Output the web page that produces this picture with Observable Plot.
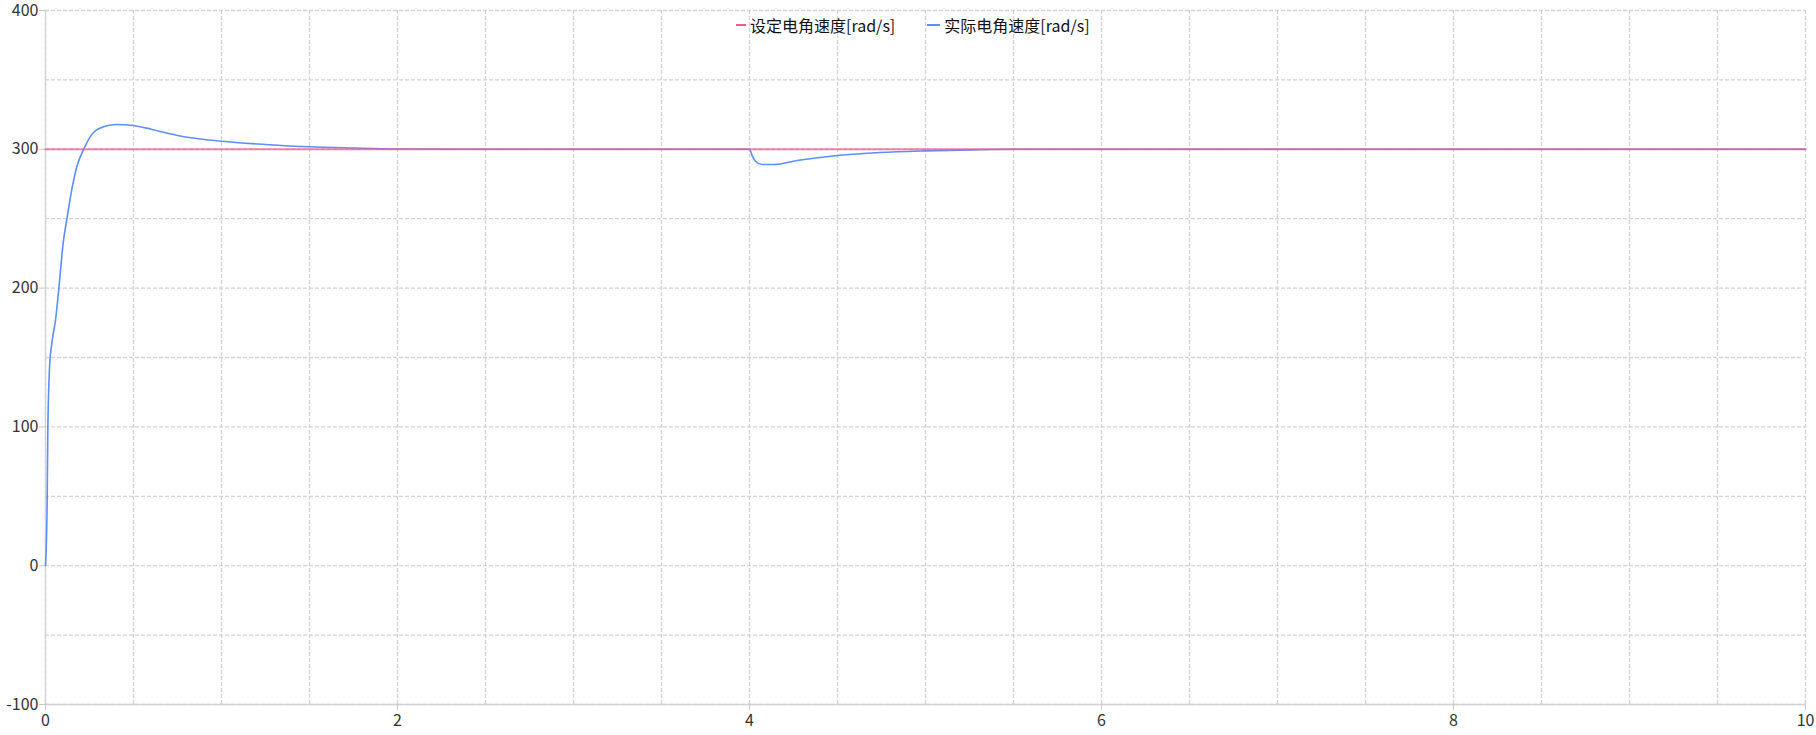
<!DOCTYPE html>
<html>
<head>
<meta charset="utf-8">
<script src="https://cdn.jsdelivr.net/npm/d3@7"></script>
<script src="https://cdn.jsdelivr.net/npm/@observablehq/plot@0.6"></script>
<style>
  html, body { margin: 0; padding: 0; background: #fff; }
  #wrap { position: relative; width: 1816px; height: 735px; font-family: "Noto Sans CJK SC", "Noto Sans", sans-serif; }
  #legend { position: absolute; top: 13px; left: 736px; display: flex; align-items: center; font-size: 16px; color: #111; white-space: nowrap; }
  .item { display: flex; align-items: center; }
  .sw { display: inline-block; height: 2.5px; margin-right: 4px; }
</style>
</head>
<body>
<div id="wrap"><div id="legend"></div></div>
<script>
// Series names
const seriesNames = ["设定电角速度[rad/s]", "实际电角速度[rad/s]"];
const seriesColors = ["#ee5b8e", "#5b8ff9"];

// Setpoint electrical angular speed (rad/s)
const setT = [0, 10];
const setV = [300, 300];

// Actual electrical angular speed (rad/s)
const actT = [0, 0.0095, 0.013, 0.023, 0.038, 0.057, 0.076, 0.10, 0.123, 0.152, 0.18, 0.218, 0.274, 0.35, 0.407, 0.5, 0.6, 0.75, 1.0, 1.25, 1.5, 1.75, 2.0, 2.3,
              4.0, 4.015, 4.034, 4.072, 4.14, 4.27, 4.5, 4.74, 5.0, 5.26, 5.5, 10];
const actV = [0, 47, 95, 143, 162, 177, 200, 232, 251, 272.7, 288.3, 300.3, 312.3, 317, 317.9, 317.1, 314.5, 310, 305.8, 303.5, 301.8, 300.9, 300.2, 300,
              300, 295.5, 291.4, 289, 289, 291.9, 295.5, 297.7, 298.9, 299.6, 300, 300];

// Axes
const xTicks = [0, 2, 4, 6, 8, 10];
const yTicks = [-100, 0, 100, 200, 300, 400];
const xGrid = d3.range(0, 10.001, 0.5);
const yGrid = d3.range(-100, 400.001, 50);

const setData = setT.map((t, i) => ({t, v: setV[i]}));
const actData = actT.map((t, i) => ({t, v: actV[i]}));

const chart = Plot.plot({
  width: 1816,
  height: 735,
  marginLeft: 45,
  marginRight: 11,
  marginTop: 10,
  marginBottom: 31,
  style: { fontFamily: '"Noto Sans CJK SC", "Noto Sans", sans-serif', fontSize: "16px", background: "#fff" },
  x: { domain: [0, 10], label: null },
  y: { domain: [-100, 400], label: null },
  marks: [
    Plot.ruleX(xGrid, { stroke: "#d2d2d2", strokeWidth: 1.3, strokeDasharray: "4,2" }),
    Plot.ruleY(yGrid, { stroke: "#d2d2d2", strokeWidth: 1.3, strokeDasharray: "4,2" }),
    Plot.ruleX([0], { stroke: "#d2d2d2", strokeWidth: 1.3 }),
    Plot.ruleY([-100], { stroke: "#d2d2d2", strokeWidth: 1.3 }),
    Plot.axisX(xTicks, { label: null, tickFormat: d => String(d), tickSize: 6, tickPadding: 4, stroke: "#c8c8c8", fill: "#333", fontSize: 16 }),
    Plot.axisY(yTicks, { label: null, tickFormat: d => String(d), tickSize: 6, tickPadding: 1, stroke: "#c8c8c8", fill: "#333", fontSize: 16 }),
    Plot.line(actData, { x: "t", y: "v", stroke: seriesColors[1], strokeWidth: 1.6, curve: "monotone-x" }),
    Plot.line(setData, { x: "t", y: "v", stroke: seriesColors[0], strokeWidth: 2, strokeOpacity: 0.75 })
  ]
});
document.getElementById("wrap").prepend(chart);

const legend = document.getElementById("legend");
seriesNames.forEach((name, i) => {
  const item = document.createElement("div");
  item.className = "item";
  if (i > 0) item.style.marginLeft = "32px";
  const sw = document.createElement("span");
  sw.className = "sw";
  sw.style.background = seriesColors[i];
  sw.style.width = i === 0 ? "10px" : "13px";
  const tx = document.createElement("span");
  tx.textContent = name;
  item.appendChild(sw);
  item.appendChild(tx);
  legend.appendChild(item);
});
</script>
</body>
</html>
